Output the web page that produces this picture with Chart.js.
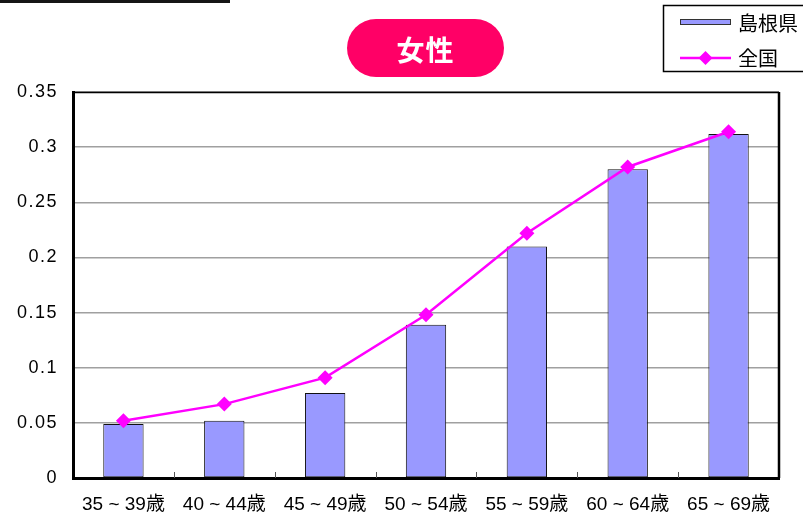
<!DOCTYPE html>
<html lang="ja">
<head>
<meta charset="utf-8">
<script src="https://cdn.jsdelivr.net/npm/chart.js@4/dist/chart.umd.min.js"></script>
<style>
  html, body { margin: 0; padding: 0; background: #fff; }
  #wrap { position: relative; width: 803px; height: 517px; overflow: hidden; }
  #chart { position: absolute; left: 0; top: 0; }
  .topbar { position: absolute; left: 0; top: 0; width: 230px; height: 3px; background: #151515; }
  .pill {
    position: absolute; left: 347px; top: 19px; width: 157px; height: 58px;
    border-radius: 29px; background: #ff0066; color: #fff;
    font-family: "Noto Sans CJK JP", sans-serif; font-weight: bold; font-size: 28px;
    display: flex; align-items: center; justify-content: center; letter-spacing: 1px;
    padding-top: 2px; box-sizing: border-box;
  }
</style>
</head>
<body>
<div id="wrap">
  <canvas id="chart" width="803" height="517"></canvas>
  <div class="topbar"></div>
  <div class="pill">女性</div>
</div>
<script>
// Age groups and rates
const categories = ['35 ~ 39歳', '40 ~ 44歳', '45 ~ 49歳', '50 ~ 54歳', '55 ~ 59歳', '60 ~ 64歳', '65 ~ 69歳'];
const shimaneValues = [0.049, 0.052, 0.077, 0.139, 0.210, 0.280, 0.312];
const nationalValues = [0.052, 0.067, 0.091, 0.148, 0.222, 0.282, 0.314];
const yTicks = [0, 0.05, 0.1, 0.15, 0.2, 0.25, 0.3, 0.35];
const seriesNames = ['島根県', '全国'];

const LATIN = "'Liberation Sans', 'Noto Sans CJK JP', sans-serif";
const CJK = "'Noto Sans CJK JP', sans-serif";

// Linear scale whose tick labels are drawn slightly letter-spaced
class SpacedLinearScale extends Chart.LinearScale {
  drawLabels(area) {
    const ctx = this.ctx;
    ctx.save();
    ctx.letterSpacing = '1.5px';
    super.drawLabels(area);
    ctx.restore();
  }
}
SpacedLinearScale.id = 'spacedLinear';
SpacedLinearScale.defaults = Chart.LinearScale.defaults;
Chart.register(SpacedLinearScale);

// Frame on top/right and short inward ticks on the category axis
const framePlugin = {
  id: 'frame',
  afterDraw(chart) {
    const { ctx, chartArea: a, scales: { x } } = chart;
    ctx.save();
    ctx.strokeStyle = '#000';
    ctx.lineWidth = 1.5;
    ctx.beginPath();
    ctx.moveTo(a.left, a.top + 0.5);
    ctx.lineTo(a.right, a.top + 0.5);
    ctx.stroke();
    ctx.lineWidth = 2.5;
    ctx.beginPath();
    ctx.moveTo(a.right, a.top);
    ctx.lineTo(a.right, a.bottom);
    ctx.stroke();
    ctx.lineWidth = 1;
    ctx.strokeStyle = '#555';
    for (let i = 0; i < categories.length - 1; i++) {
      const px = Math.round((x.getPixelForValue(i) + x.getPixelForValue(i + 1)) / 2) + 0.5;
      ctx.beginPath();
      ctx.moveTo(px, a.bottom - 6);
      ctx.lineTo(px, a.bottom);
      ctx.stroke();
    }
    ctx.restore();
  }
};

// Boxed legend in the upper right
const legendPlugin = {
  id: 'boxLegend',
  afterDraw(chart) {
    const { ctx } = chart;
    const bar = chart.data.datasets[1];
    const line = chart.data.datasets[0];
    ctx.save();
    ctx.fillStyle = '#fff';
    ctx.fillRect(663, 5, 150, 67);
    ctx.strokeStyle = '#000';
    ctx.lineWidth = 1.5;
    ctx.strokeRect(663.5, 5.5, 150, 66);

    ctx.fillStyle = bar.backgroundColor;
    ctx.fillRect(680, 19, 51, 6);
    ctx.strokeStyle = '#333';
    ctx.lineWidth = 1;
    ctx.strokeRect(680.5, 19.5, 50, 5);

    ctx.strokeStyle = line.borderColor;
    ctx.lineWidth = line.borderWidth;
    ctx.beginPath();
    ctx.moveTo(680, 58);
    ctx.lineTo(731, 58);
    ctx.stroke();
    ctx.fillStyle = line.pointBackgroundColor;
    ctx.beginPath();
    ctx.moveTo(705.5, 51);
    ctx.lineTo(712.5, 58);
    ctx.lineTo(705.5, 65);
    ctx.lineTo(698.5, 58);
    ctx.closePath();
    ctx.fill();

    ctx.fillStyle = '#000';
    ctx.font = '20px ' + CJK;
    ctx.textBaseline = 'middle';
    ctx.textAlign = 'left';
    ctx.fillText(bar.label, 738, 23);
    ctx.fillText(line.label, 738, 58);
    ctx.restore();
  }
};

new Chart(document.getElementById('chart'), {
  type: 'bar',
  data: {
    labels: categories,
    datasets: [
      {
        type: 'line',
        label: seriesNames[1],
        data: nationalValues,
        borderColor: '#ff00ff',
        borderWidth: 2.5,
        pointStyle: 'rectRot',
        pointRadius: 7.5,
        pointBorderWidth: 0,
        pointBackgroundColor: '#ff00ff',
        pointBorderColor: '#ff00ff',
        tension: 0,
        order: 0
      },
      {
        type: 'bar',
        label: seriesNames[0],
        data: shimaneValues,
        backgroundColor: '#9999ff',
        borderColor: '#111',
        borderWidth: 1,
        borderSkipped: false,
        barPercentage: 0.4,
        categoryPercentage: 1,
        order: 1
      }
    ]
  },
  options: {
    responsive: false,
    animation: false,
    devicePixelRatio: 1,
    layout: { padding: { top: 92, right: 24, left: 0, bottom: 0 } },
    plugins: {
      legend: { display: false },
      tooltip: { enabled: false },
      title: { display: false }
    },
    scales: {
      x: {
        offset: true,
        grid: { display: true, color: 'rgba(0,0,0,0)', drawTicks: false, offset: true },
        border: { display: true, color: '#000', width: 3 },
        ticks: { font: { family: LATIN, size: 19 }, color: '#000', padding: 15, maxRotation: 0, autoSkip: false },
        afterFit(s) { s.height = 39; }
      },
      y: {
        type: 'spacedLinear',
        position: 'left',
        min: 0,
        max: 0.35,
        afterBuildTicks(s) { s.ticks = yTicks.map(v => ({ value: v })); },
        grid: { color: '#a0a0a0', lineWidth: 1.5, drawTicks: false },
        border: { display: true, color: '#000', width: 3 },
        ticks: {
          font: { family: LATIN, size: 18 },
          color: '#000',
          padding: 15,
          callback: v => String(v)
        },
        afterFit(s) { s.width = 73; }
      }
    }
  },
  plugins: [framePlugin, legendPlugin]
});
</script>
</body>
</html>
